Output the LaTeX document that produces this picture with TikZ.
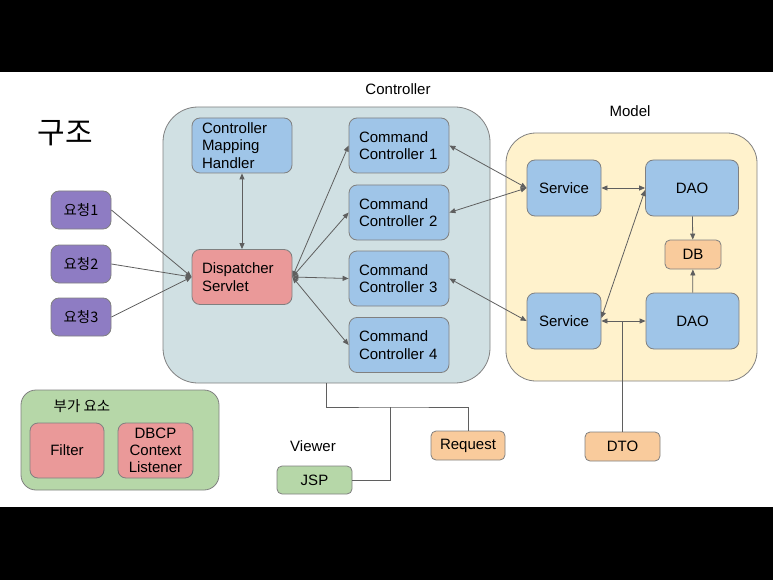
\documentclass[tikz,border=0pt]{standalone}
\usepackage{fontspec}
\setmainfont{Liberation Sans}
\newfontfamily\kr{Noto Sans CJK KR}
\usetikzlibrary{arrows.meta}
\definecolor{CtrlBg}{HTML}{D0E0E3}
\definecolor{ModelBg}{HTML}{FFF2CC}
\definecolor{BlueBox}{HTML}{9FC5E8}
\definecolor{RedBox}{HTML}{EA9999}
\definecolor{PurpleBox}{HTML}{8E7CC3}
\definecolor{OrangeBox}{HTML}{F9CB9C}
\definecolor{GreenBox}{HTML}{B6D7A8}
\definecolor{Edge}{HTML}{808080}
\definecolor{Wire}{HTML}{5F5F5F}
\tikzset{
  box/.style={draw=Edge, line width=0.8pt, rounded corners=8pt, text centered, font=\fontsize{15}{17.5}\selectfont},
  leftbox/.style={box, text width=80pt, inner xsep=10pt, align=left, minimum height=55pt},
  group/.style={draw=Edge, line width=0.8pt},
  caption/.style={font=\fontsize{15}{17}\selectfont},
  link/.style={draw=Wire, line width=0.8pt},
  onearr/.style={link, -{Triangle[length=6pt,width=5pt]}},
  twoarr/.style={link, {Triangle[length=6pt,width=5pt]}-{Triangle[length=6pt,width=5pt]}},
}
\begin{document}
\begin{tikzpicture}[x=1pt,y=-1pt]%
\useasboundingbox (0,0) rectangle (773,580);%
\fill[black] (0,0) rectangle (773,72);%
\fill[black] (0,507) rectangle (773,580);%
% groups
\node[group, fill=CtrlBg, rounded corners=35pt, minimum width=327pt, minimum height=276pt] (ctrl) at (326.5,245) {};%
\node[group, fill=ModelBg, rounded corners=30pt, minimum width=251pt, minimum height=248pt] (model) at (631.5,257) {};%
\node[group, fill=GreenBox, rounded corners=15pt, minimum width=198pt, minimum height=100pt] (extra) at (120,440) {};%
\node[caption] (ctrllbl) at (398,89) {Controller};%
\node[caption] (modellbl) at (630,111) {Model};%
\node[caption] (viewlbl) at (313,446) {Viewer};%
\node[caption, font=\kr\fontsize{14.5}{17}\selectfont] (extralbl) at (82,406) {부가 요소};%
\node[font=\kr\fontsize{30}{34}\selectfont] (title) at (65,133) {구조};%
% controller
\node[leftbox, fill=BlueBox] (cmh) at (242,145.5) {Controller\\Mapping\\Handler};%
\node[leftbox, fill=RedBox] (ds) at (242,277) {Dispatcher\\Servlet};%
\node[leftbox, fill=BlueBox] (cc1) at (399,145.5) {Command\\Controller 1};%
\node[leftbox, fill=BlueBox] (cc2) at (399,212.5) {Command\\Controller 2};%
\node[leftbox, fill=BlueBox] (cc3) at (399,278.5) {Command\\Controller 3};%
\node[leftbox, fill=BlueBox] (cc4) at (399,345) {Command\\Controller 4};%
% requests
\node[box, fill=PurpleBox, minimum width=60pt, minimum height=38pt, font=\kr\fontsize{14.5}{17}\selectfont] (req1) at (81,210) {요청1};%
\node[box, fill=PurpleBox, minimum width=60pt, minimum height=38pt, font=\kr\fontsize{14.5}{17}\selectfont] (req2) at (81,264) {요청2};%
\node[box, fill=PurpleBox, minimum width=60pt, minimum height=38pt, font=\kr\fontsize{14.5}{17}\selectfont] (req3) at (81,317) {요청3};%
% model
\node[box, fill=BlueBox, minimum width=74pt, minimum height=56pt] (svc1) at (564,188) {Service};%
\node[box, fill=BlueBox, minimum width=74pt, minimum height=56pt] (svc2) at (564,321) {Service};%
\node[box, fill=BlueBox, minimum width=93pt, minimum height=56pt] (dao1) at (692,188) {DAO};%
\node[box, fill=BlueBox, minimum width=93pt, minimum height=56pt] (dao2) at (692.5,321) {DAO};%
\node[box, fill=OrangeBox, minimum width=56pt, minimum height=29pt, rounded corners=5pt] (db) at (693,254.5) {DB};%
% extras and viewer
\node[box, fill=RedBox, minimum width=74pt, minimum height=55pt] (filter) at (67,450.5) {Filter};%
\node[box, fill=RedBox, minimum width=75pt, minimum height=55pt, align=center, font=\fontsize{15}{17}\selectfont] (dbcp) at (155.5,450.5) {DBCP\\Context\\Listener};%
\node[box, fill=GreenBox, minimum width=75pt, minimum height=28pt, rounded corners=5pt] (jsp) at (314.5,480) {JSP};%
\node[box, fill=OrangeBox, minimum width=74pt, minimum height=29pt, rounded corners=5pt] (request) at (468,445.5) {Request};%
\node[box, fill=OrangeBox, minimum width=75pt, minimum height=29pt, rounded corners=5pt] (dto) at (622.5,446.5) {DTO};%
% connectors
\draw[twoarr] (cmh) -- (ds);%
\draw[onearr] (req1.east) -- (ds.west);%
\draw[onearr] (req2.east) -- (ds.west);%
\draw[onearr] (req3.east) -- (ds.west);%
\draw[twoarr] (ds.east) -- (cc1.west);%
\draw[twoarr] (ds.east) -- (cc2.west);%
\draw[twoarr] (ds.east) -- (cc3.west);%
\draw[twoarr] (ds.east) -- (cc4.west);%
\draw[twoarr] (cc1.east) -- (svc1.west);%
\draw[twoarr] (cc2.east) -- (svc1.west);%
\draw[twoarr] (cc3.east) -- (svc2.west);%
\draw[twoarr] (svc1) -- (dao1);%
\draw[twoarr] (svc2) -- (dao2);%
\draw[twoarr] ([yshift=3pt]svc2.east) -- ([yshift=-2pt]dao1.west);%
\draw[onearr] (dao1) -- (db);%
\draw[onearr] (dao2) -- (db);%
\draw[link] (dto.north) -- (dto.north |- svc2.east);%
\coordinate (viewjoin) at (390,407);%
\draw[link] (ctrl.south) |- (viewjoin) -| (request.north);%
\draw[link] (jsp.east) -| (viewjoin);%
\end{tikzpicture}%
\end{document}
